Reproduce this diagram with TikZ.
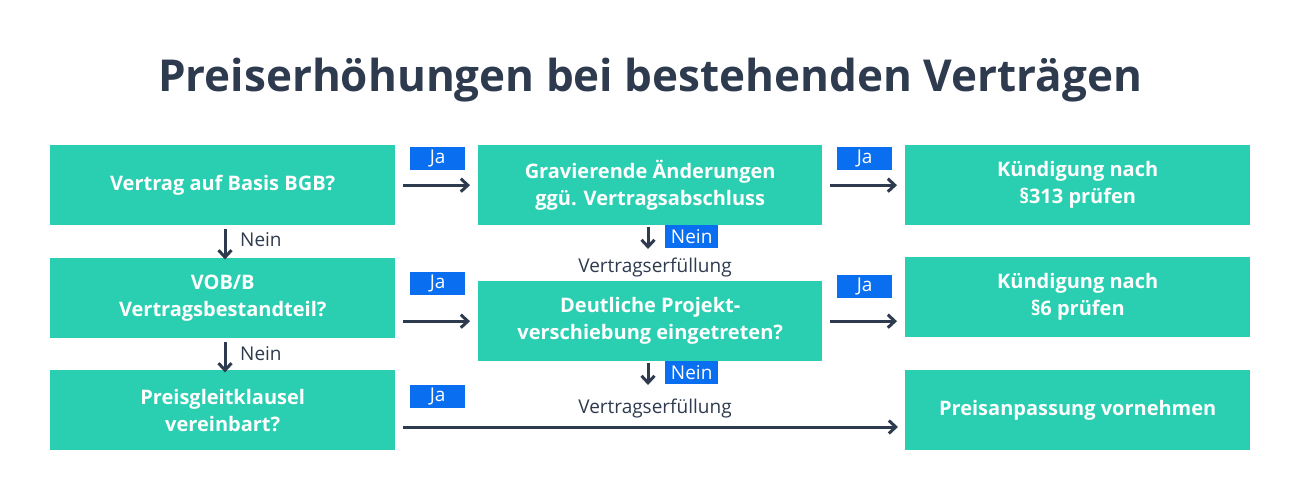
\documentclass[tikz,border=0pt]{standalone}
\usepackage{fontspec}
\setmainfont{Open Sans}
\usetikzlibrary{arrows.meta}
\definecolor{teal}{HTML}{2ACFB1}
\definecolor{ink}{HTML}{2E3A4E}
\definecolor{blu}{HTML}{0A6EF0}
\tikzset{
 box/.style={fill=teal,text=white,font=\fontsize{20}{27}\selectfont\bfseries,minimum width=345pt,minimum height=80pt,align=center,inner sep=0pt,anchor=north west},
 tag/.style={fill=blu,text=white,font=\fontsize{19}{19}\selectfont,minimum width=55pt,minimum height=23pt,inner sep=0pt,anchor=north west},
 lbl/.style={text=ink,font=\fontsize{19}{19}\selectfont,inner sep=0pt},
 arr/.style={ink,line width=3pt,-{Straight Barb[length=7pt,width=13pt]}}
}
\begin{document}
\begin{tikzpicture}[x=1pt,y=-1pt]
\useasboundingbox (0,0) rectangle (1300,500);
\node[text=ink,font=\fontsize{44}{44}\selectfont\bfseries] (title) at (650,80) {Preiserhöhungen bei bestehenden Verträgen};
\node[box] (a1) at (50,145) {Vertrag auf Basis BGB?};
\node[box] (a2) at (50,258) {VOB/B\\Vertragsbestandteil?};
\node[box] (a3) at (50,370) {Preisgleitklausel\\vereinbart?};
\node[box,minimum width=344pt] (b1) at (478,145) {Gravierende Änderungen\\ggü. Vertragsabschluss};
\node[box,minimum width=344pt] (b2) at (478,281) {Deutliche Projekt-\\verschiebung eingetreten?};
\node[box] (c1) at (905,145) {Kündigung nach\\§313 prüfen};
\node[box] (c2) at (905,257) {Kündigung nach\\§6 prüfen};
\node[box] (c3) at (905,370) {Preisanpassung vornehmen};
\node[tag] (j1) at (410,147) {Ja};
\node[tag] (j2) at (410,272) {Ja};
\node[tag] (j3) at (410,385) {Ja};
\node[tag] (j4) at (837,147) {Ja};
\node[tag] (j5) at (837,275) {Ja};
\node[tag,minimum width=53pt] (n1) at (665,225) {Nein};
\node[tag,minimum width=53pt] (n2) at (665,361) {Nein};
\node[lbl] (v1) at (655,268) {Vertragserfüllung};
\node[lbl] (v2) at (655,409) {Vertragserfüllung};
\node[lbl,anchor=west] (m1) at (240,240) {Nein};
\node[lbl,anchor=west] (m2) at (240,354) {Nein};
\draw[arr] ([xshift=8pt]a1.east) -- ([xshift=-8pt]b1.west);
\draw[arr] ([xshift=8pt]a2.east|-b2.west) -- ([xshift=-8pt]b2.west);
\draw[arr] ([xshift=8pt]a3.east|-0,427) -- ([xshift=-7pt]c3.west|-0,427);
\draw[arr] ([xshift=8pt]b1.east) -- ([xshift=-8pt]c1.west|-b1.east);
\draw[arr] ([xshift=8pt]b2.east) -- ([xshift=-8pt]c2.west|-b2.east);
\draw[arr] ([yshift=-4pt]a1.south-|175,0) ++(50,0) coordinate (d1) -- ++(0,30);
\draw[arr] ([yshift=-4pt]a2.south-|175,0) ++(50,0) coordinate (d2) -- ++(0,30);
\coordinate (e1) at (648,225);
\draw[arr] (e1) ++(0,2) -- ++(0,22);
\coordinate (e2) at (648,361);
\draw[arr] (e2) ++(0,2) -- ++(0,22);
\end{tikzpicture}
\end{document}
